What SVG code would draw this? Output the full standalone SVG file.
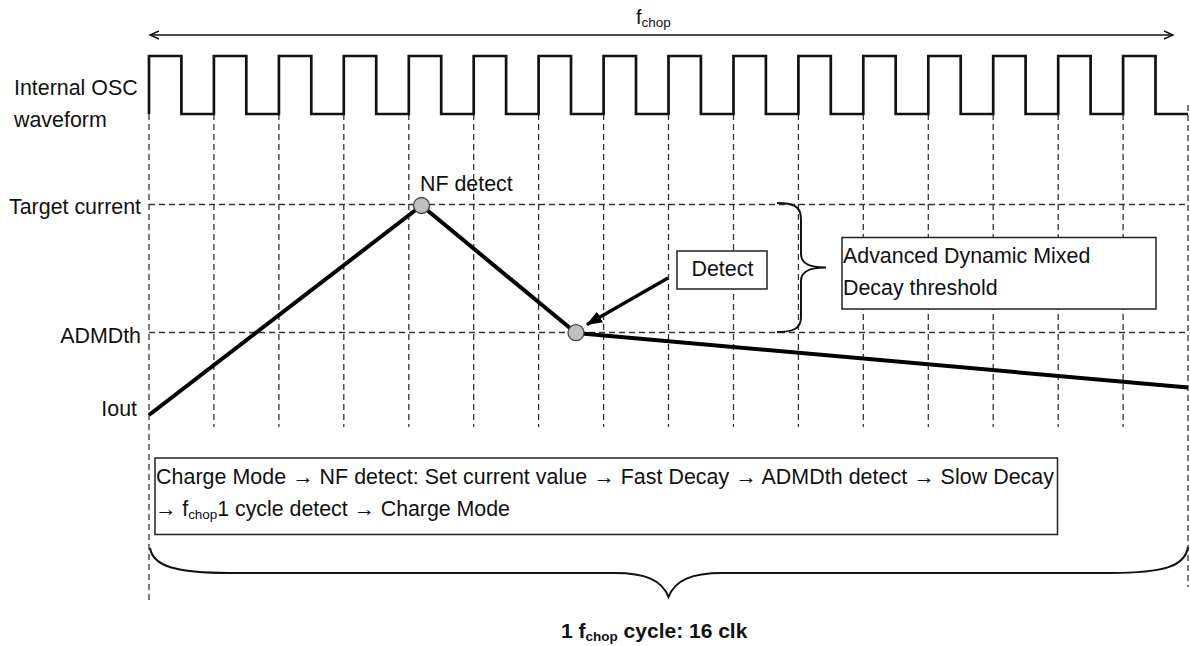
<svg xmlns="http://www.w3.org/2000/svg" width="1190" height="646" viewBox="0 0 1190 646">
<defs>
<style>
text{font-family:"Liberation Sans",Arial,sans-serif;font-size:21.4px;fill:#111;}
.sub{font-size:13.5px;}
.b{font-weight:bold;font-size:21px;}
.dash{stroke:#333;stroke-width:1.3;stroke-dasharray:6,4;fill:none;}
.wave{stroke:#111;stroke-width:2.7;fill:none;stroke-linejoin:miter;}
.cur{stroke:#000;stroke-width:4;fill:none;stroke-linejoin:round;}
.box{fill:#fff;stroke:#222;stroke-width:1.5;}
.brace{fill:none;stroke:#111;stroke-width:2;}
.dot{fill:#bfbfbf;stroke:#444;stroke-width:1.3;}
</style>
<marker id="open" markerWidth="12" markerHeight="12" refX="10" refY="5" orient="auto-start-reverse" markerUnits="userSpaceOnUse">
<path d="M1,1 L10,5 L1,9" fill="none" stroke="#111" stroke-width="1.4"/>
</marker>
<marker id="solid" markerWidth="20" markerHeight="14" refX="15" refY="7" orient="auto" markerUnits="userSpaceOnUse">
<path d="M0,1 L16,7 L0,13 Z" fill="#000"/>
</marker>
</defs>
<rect width="1190" height="646" fill="#fff"/>

<g id="grid">
<path class="dash" d="M149,114 V603 M1188,105 V587
M213.9,114 V427 M278.9,114 V427 M343.8,114 V427 M408.8,114 V427 M473.7,114 V427 M538.6,114 V427 M603.6,114 V427 M668.5,114 V427 M733.5,114 V427 M798.4,114 V427 M863.3,114 V427 M928.3,114 V427 M993.2,114 V427 M1058.2,114 V427 M1123.1,114 V427
M149,204.5 H1188 M149,332.5 H1188"/>
</g>

<g id="fchop-label">
<text x="636" y="24" style="font-size:20px">f<tspan class="sub" dy="3">chop</tspan></text>
</g>

<g id="osc-label">
<text x="14" y="95">Internal OSC</text>
<text x="14" y="127">waveform</text>
</g>

<g id="osc-waveform">
<path class="wave" d="M149,114 V56 H181.4 V114 H213.9 V56 H246.3 V114 H278.9 V56 H311.3 V114 H343.8 V56 H376.2 V114 H408.8 V56 H441.2 V114 H473.7 V56 H506.1 V114 H538.6 V56 H571 V114 H603.6 V56 H636 V114 H668.5 V56 H700.9 V114 H733.5 V56 H765.9 V114 H798.4 V56 H830.8 V114 H863.3 V56 H895.7 V114 H928.3 V56 H960.7 V114 H993.2 V56 H1025.6 V114 H1058.2 V56 H1090.6 V114 H1123.1 V56 H1155.5 V114 H1188"/>
</g>

<g id="level-labels">
<text x="141" y="214" text-anchor="end">Target current</text>
<text x="141" y="343" text-anchor="end">ADMDth</text>
<text x="137" y="416" text-anchor="end">Iout</text>
</g>

<g id="current-waveform">
<path class="cur" d="M149,415 L421.5,205.5 L576,333 L1188,387.5"/>
</g>

<g id="nf-detect">
<circle class="dot" cx="421.5" cy="205.5" r="8"/>
<text x="420" y="191">NF detect</text>
</g>

<g id="admd-detect-point">
<circle class="dot" cx="576" cy="332.7" r="8"/>
</g>

<g id="detect-box">
<rect class="box" x="677" y="251" width="90" height="38"/>
<text x="691.5" y="276">Detect</text>
</g>

<g id="threshold-brace">
<path class="brace" d="M777,203 C793,203 801,206 801,219 V254 C801,263 808,267.5 826,267.5 C808,267.5 801,272 801,281 V317 C801,329 793,332 777,332"/>
</g>

<g id="admd-box">
<rect class="box" x="842" y="237.5" width="314" height="71.5"/>
<text x="843" y="263">Advanced Dynamic Mixed</text>
<text x="843" y="294.5">Decay threshold</text>
</g>

<g id="sequence-box">
<rect class="box" x="155" y="458" width="902.5" height="76.5"/>
<text x="156" y="483.5" textLength="898" lengthAdjust="spacing">Charge Mode → NF detect: Set current value → Fast Decay → ADMDth detect → Slow Decay</text>
<text x="155" y="516" textLength="355" lengthAdjust="spacing">→ f<tspan class="sub" dy="3">chop</tspan><tspan dy="-3">1 cycle detect → Charge Mode</tspan></text>
</g>

<g id="cycle-brace">
<path class="brace" d="M150,548 C153,566 175,573 230,573 H615 C645,573 662,580 668.5,597 C675,580 692,573 722,573 H1110 C1165,573 1185,566 1188,547"/>
</g>

<g id="cycle-label">
<text class="b" x="561" y="638">1 f<tspan class="sub" dy="3">chop</tspan><tspan dy="-3"> cycle: 16 clk</tspan></text>
</g>

<g id="connectors">
<line x1="150" y1="35" x2="1173" y2="35" stroke="#111" stroke-width="1.4" marker-start="url(#open)" marker-end="url(#open)"/>
<line x1="668" y1="278" x2="587" y2="324.5" stroke="#000" stroke-width="3.2" marker-end="url(#solid)"/>
</g>
</svg>
